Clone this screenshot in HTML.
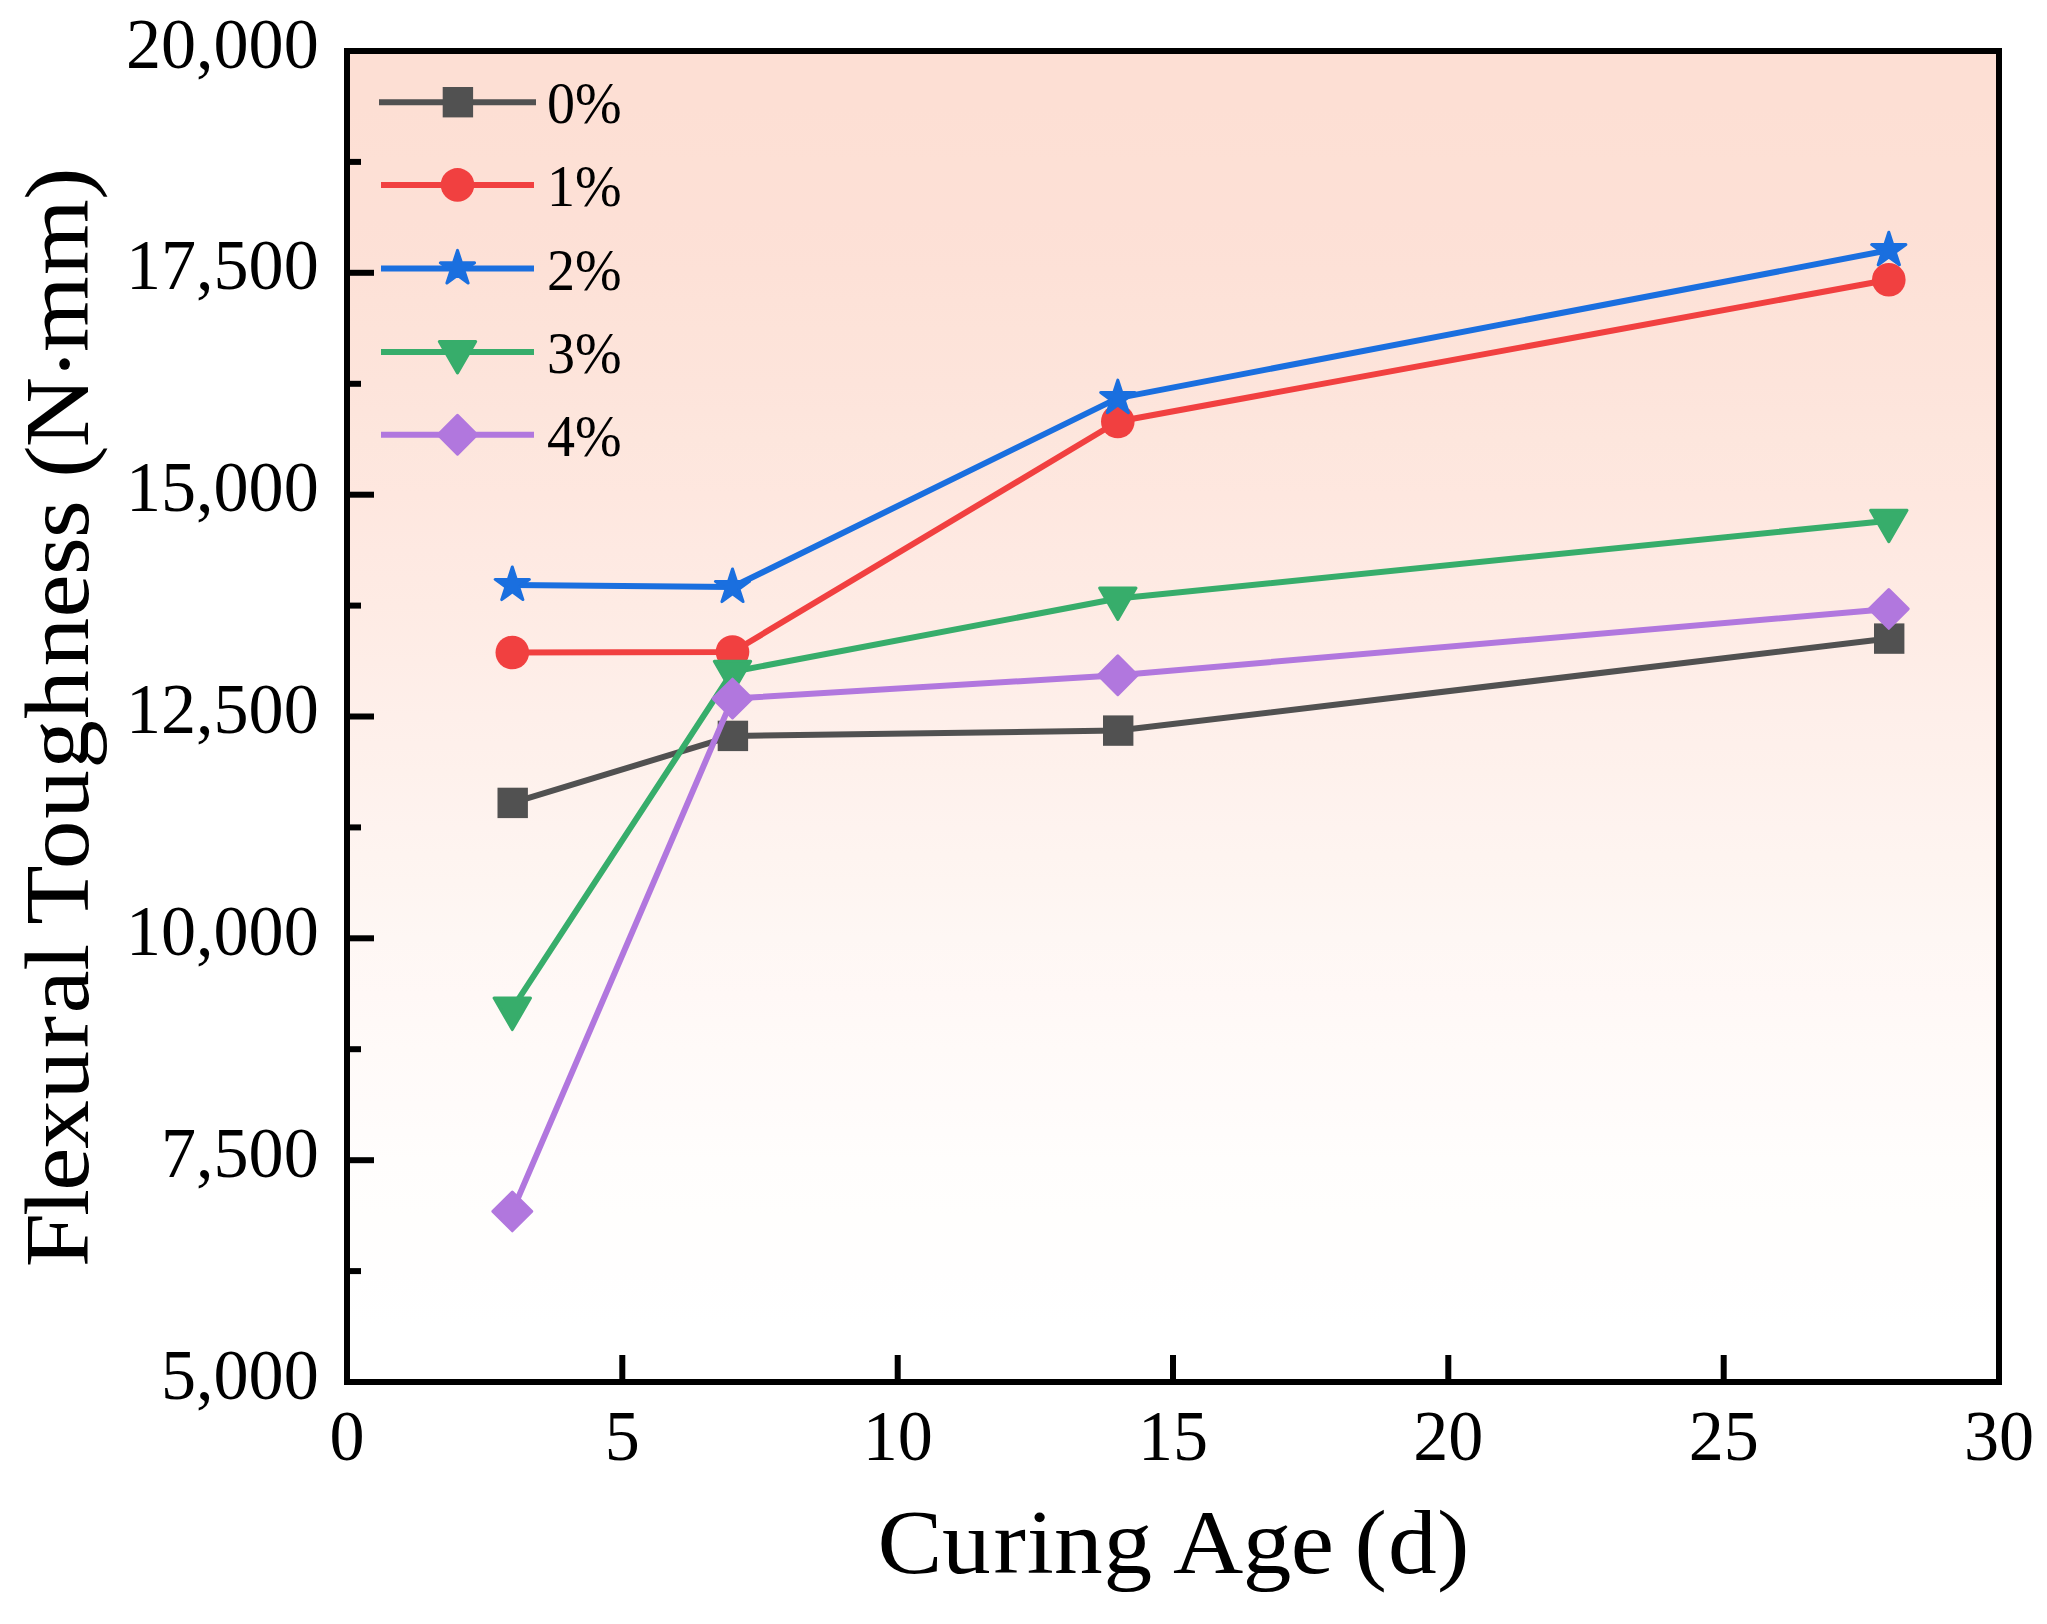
<!DOCTYPE html>
<html lang="en">
<head>
<meta charset="utf-8">
<title>Flexural Toughness vs Curing Age</title>
<style>
html,body{margin:0;padding:0;background:#fff;}
body{width:2047px;height:1624px;overflow:hidden;}
svg{display:block;}
text{font-family:"Liberation Serif", "DejaVu Serif", serif;fill:#000;}
</style>
</head>
<body>
<svg width="2047" height="1624" viewBox="0 0 2047 1624">
<defs><linearGradient id="bg" x1="0" y1="0" x2="0" y2="1"><stop offset="0.0000" stop-color="#fddfd4"/><stop offset="0.0417" stop-color="#fddfd4"/><stop offset="0.0833" stop-color="#fde0d5"/><stop offset="0.1250" stop-color="#fde0d6"/><stop offset="0.1667" stop-color="#fde1d7"/><stop offset="0.2083" stop-color="#fde3d9"/><stop offset="0.2500" stop-color="#fde4db"/><stop offset="0.2917" stop-color="#fde6dd"/><stop offset="0.3333" stop-color="#fee7df"/><stop offset="0.3750" stop-color="#fee9e2"/><stop offset="0.4167" stop-color="#feebe4"/><stop offset="0.4583" stop-color="#feede7"/><stop offset="0.5000" stop-color="#feefea"/><stop offset="0.5417" stop-color="#fef1ec"/><stop offset="0.5833" stop-color="#fef3ef"/><stop offset="0.6250" stop-color="#fef5f1"/><stop offset="0.6667" stop-color="#fef7f4"/><stop offset="0.7083" stop-color="#fff8f6"/><stop offset="0.7500" stop-color="#fffaf8"/><stop offset="0.7917" stop-color="#fffbfa"/><stop offset="0.8333" stop-color="#fffdfc"/><stop offset="0.8750" stop-color="#fffefd"/><stop offset="0.9167" stop-color="#fffefe"/><stop offset="0.9583" stop-color="#ffffff"/><stop offset="1.0000" stop-color="#ffffff"/></linearGradient></defs>
<rect x="0" y="0" width="2047" height="1624" fill="#ffffff"/>
<rect x="347" y="51" width="1652" height="1331" fill="url(#bg)"/>
<g>
<polyline fill="none" stroke="#515151" stroke-width="6" stroke-linejoin="round" points="512.3,802.9 732.5,735.9 1117.8,730.6 1888.8,638.6"/>
<rect x="497.5" y="787.7" width="30.4" height="30.4" fill="#515151"/>
<rect x="717.7" y="720.7" width="30.4" height="30.4" fill="#515151"/>
<rect x="1103.0" y="715.4" width="30.4" height="30.4" fill="#515151"/>
<rect x="1874.0" y="623.4" width="30.4" height="30.4" fill="#515151"/>
</g>
<g>
<polyline fill="none" stroke="#f14040" stroke-width="6" stroke-linejoin="round" points="512.3,652.5 732.5,652.0 1117.8,421.5 1888.8,279.8"/>
<circle cx="512.3" cy="652.5" r="16.8" fill="#f14040"/>
<circle cx="732.5" cy="652.0" r="16.8" fill="#f14040"/>
<circle cx="1117.8" cy="421.5" r="16.8" fill="#f14040"/>
<circle cx="1888.8" cy="279.8" r="16.8" fill="#f14040"/>
</g>
<g>
<polyline fill="none" stroke="#1a6fdf" stroke-width="6" stroke-linejoin="round" points="512.3,585.0 732.5,587.0 1117.8,398.1 1888.8,250.2"/>
<polygon points="512.3,567.0 516.3,579.4 529.4,579.4 518.8,587.1 522.9,599.6 512.3,591.9 501.7,599.6 505.8,587.1 495.2,579.4 508.3,579.4" fill="#1a6fdf" stroke="#1a6fdf" stroke-width="3" stroke-linejoin="round"/>
<polygon points="732.5,569.0 736.5,581.4 749.6,581.4 739.0,589.1 743.1,601.6 732.5,593.9 721.9,601.6 726.0,589.1 715.4,581.4 728.5,581.4" fill="#1a6fdf" stroke="#1a6fdf" stroke-width="3" stroke-linejoin="round"/>
<polygon points="1117.8,380.1 1121.8,392.5 1134.9,392.5 1124.3,400.2 1128.4,412.7 1117.8,405.0 1107.2,412.7 1111.3,400.2 1100.7,392.5 1113.8,392.5" fill="#1a6fdf" stroke="#1a6fdf" stroke-width="3" stroke-linejoin="round"/>
<polygon points="1888.8,232.2 1892.8,244.6 1905.9,244.6 1895.3,252.3 1899.4,264.8 1888.8,257.1 1878.2,264.8 1882.3,252.3 1871.7,244.6 1884.8,244.6" fill="#1a6fdf" stroke="#1a6fdf" stroke-width="3" stroke-linejoin="round"/>
</g>
<g>
<polyline fill="none" stroke="#37ad6b" stroke-width="6" stroke-linejoin="round" points="512.3,1008.6 732.5,671.7 1117.8,598.5 1888.8,520.7"/>
<polygon points="494.1,998.1 530.5,998.1 512.3,1029.6" fill="#37ad6b" stroke="#37ad6b" stroke-width="3" stroke-linejoin="round"/>
<polygon points="714.3,661.2 750.7,661.2 732.5,692.7" fill="#37ad6b" stroke="#37ad6b" stroke-width="3" stroke-linejoin="round"/>
<polygon points="1099.6,588.0 1136.0,588.0 1117.8,619.5" fill="#37ad6b" stroke="#37ad6b" stroke-width="3" stroke-linejoin="round"/>
<polygon points="1870.6,510.2 1907.0,510.2 1888.8,541.7" fill="#37ad6b" stroke="#37ad6b" stroke-width="3" stroke-linejoin="round"/>
</g>
<g>
<polyline fill="none" stroke="#b177de" stroke-width="6" stroke-linejoin="round" points="512.3,1211.4 732.5,698.6 1117.8,675.2 1888.8,608.9"/>
<polygon points="512.3,1192.0 531.7,1211.4 512.3,1230.8 492.9,1211.4" fill="#b177de" stroke="#b177de" stroke-width="3" stroke-linejoin="round"/>
<polygon points="732.5,679.2 751.9,698.6 732.5,718.0 713.1,698.6" fill="#b177de" stroke="#b177de" stroke-width="3" stroke-linejoin="round"/>
<polygon points="1117.8,655.8 1137.2,675.2 1117.8,694.6 1098.4,675.2" fill="#b177de" stroke="#b177de" stroke-width="3" stroke-linejoin="round"/>
<polygon points="1888.8,589.5 1908.2,608.9 1888.8,628.3 1869.4,608.9" fill="#b177de" stroke="#b177de" stroke-width="3" stroke-linejoin="round"/>
</g>
<g stroke="#000" stroke-width="6" fill="none">
<rect x="347" y="51" width="1652" height="1331"/>
<line x1="347" y1="1160.2" x2="374" y2="1160.2"/>
<line x1="347" y1="938.3" x2="374" y2="938.3"/>
<line x1="347" y1="716.5" x2="374" y2="716.5"/>
<line x1="347" y1="494.7" x2="374" y2="494.7"/>
<line x1="347" y1="272.8" x2="374" y2="272.8"/>
<line x1="347" y1="1271.1" x2="361" y2="1271.1"/>
<line x1="347" y1="1049.2" x2="361" y2="1049.2"/>
<line x1="347" y1="827.4" x2="361" y2="827.4"/>
<line x1="347" y1="605.6" x2="361" y2="605.6"/>
<line x1="347" y1="383.8" x2="361" y2="383.8"/>
<line x1="347" y1="161.9" x2="361" y2="161.9"/>
<line x1="622.3" y1="1382" x2="622.3" y2="1355"/>
<line x1="897.7" y1="1382" x2="897.7" y2="1355"/>
<line x1="1173.0" y1="1382" x2="1173.0" y2="1355"/>
<line x1="1448.3" y1="1382" x2="1448.3" y2="1355"/>
<line x1="1723.7" y1="1382" x2="1723.7" y2="1355"/>
</g>
<line x1="379" y1="102.2" x2="536" y2="102.2" stroke="#515151" stroke-width="6"/>
<rect x="442.7" y="87.0" width="30.4" height="30.4" fill="#515151"/>
<line x1="381" y1="184.9" x2="534" y2="184.9" stroke="#f14040" stroke-width="6"/>
<circle cx="457.5" cy="184.9" r="16.8" fill="#f14040"/>
<line x1="381" y1="268.4" x2="534" y2="268.4" stroke="#1a6fdf" stroke-width="6"/>
<polygon points="457.5,250.4 461.5,262.8 474.6,262.8 464.0,270.5 468.1,283.0 457.5,275.3 446.9,283.0 451.0,270.5 440.4,262.8 453.5,262.8" fill="#1a6fdf" stroke="#1a6fdf" stroke-width="3" stroke-linejoin="round"/>
<line x1="381" y1="352.0" x2="534" y2="352.0" stroke="#37ad6b" stroke-width="6"/>
<polygon points="439.3,341.5 475.7,341.5 457.5,373.0" fill="#37ad6b" stroke="#37ad6b" stroke-width="3" stroke-linejoin="round"/>
<line x1="381" y1="434.8" x2="534" y2="434.8" stroke="#b177de" stroke-width="6"/>
<polygon points="457.5,415.4 476.9,434.8 457.5,454.2 438.1,434.8" fill="#b177de" stroke="#b177de" stroke-width="3" stroke-linejoin="round"/>
<text transform="translate(318.7,1398.5) scale(0.9670,1.0000)" font-size="72.5" text-anchor="end">5,000</text>
<text transform="translate(318.7,1176.7) scale(0.9670,1.0000)" font-size="72.5" text-anchor="end">7,500</text>
<text transform="translate(318.7,954.8) scale(0.9670,1.0000)" font-size="72.5" text-anchor="end">10,000</text>
<text transform="translate(318.7,733.0) scale(0.9670,1.0000)" font-size="72.5" text-anchor="end">12,500</text>
<text transform="translate(318.7,511.2) scale(0.9670,1.0000)" font-size="72.5" text-anchor="end">15,000</text>
<text transform="translate(318.7,289.3) scale(0.9670,1.0000)" font-size="72.5" text-anchor="end">17,500</text>
<text transform="translate(318.7,67.5) scale(0.9670,1.0000)" font-size="72.5" text-anchor="end">20,000</text>
<text transform="translate(347.0,1459.7) scale(0.9670,1.0000)" font-size="72.5" text-anchor="middle">0</text>
<text transform="translate(622.3,1459.7) scale(0.9670,1.0000)" font-size="72.5" text-anchor="middle">5</text>
<text transform="translate(897.7,1459.7) scale(0.9670,1.0000)" font-size="72.5" text-anchor="middle">10</text>
<text transform="translate(1173.0,1459.7) scale(0.9670,1.0000)" font-size="72.5" text-anchor="middle">15</text>
<text transform="translate(1448.3,1459.7) scale(0.9670,1.0000)" font-size="72.5" text-anchor="middle">20</text>
<text transform="translate(1723.7,1459.7) scale(0.9670,1.0000)" font-size="72.5" text-anchor="middle">25</text>
<text transform="translate(1999.0,1459.7) scale(0.9670,1.0000)" font-size="72.5" text-anchor="middle">30</text>
<text transform="translate(547.0,123.4) scale(0.9500,1.0000)" font-size="59" text-anchor="start">0%</text>
<text transform="translate(547.0,206.1) scale(0.9500,1.0000)" font-size="59" text-anchor="start">1%</text>
<text transform="translate(547.0,289.6) scale(0.9500,1.0000)" font-size="59" text-anchor="start">2%</text>
<text transform="translate(547.0,373.2) scale(0.9500,1.0000)" font-size="59" text-anchor="start">3%</text>
<text transform="translate(547.0,456.0) scale(0.9500,1.0000)" font-size="59" text-anchor="start">4%</text>
<text transform="translate(0,1572.5) scale(1.0700,1.0000)" font-size="91" x="820.1 880.3 928.5 959.6 985.1 1031.4 1063.8 1096.3 1161.5 1206.2 1236.1 1266.0 1297.3 1343.1" y="0">Curing Age (d)</text>
<text transform="translate(87.8,0) rotate(-90) scale(1.0700,1.0000)" font-size="91" x="-1184.3 -1136.5 -1112.8 -1073.5 -1027.6 -979.6 -947.3 -907.3 -885.7 -864.2 -812.4 -765.1 -718.5 -671.9 -622.8 -577.0 -537.4 -502.8 -474.7 -446.6 -418.0 -355.4 -329.0 -257.1 -186.9" y="0" dy="0 0 0 0 0 0 0 0 0 0 0 0 0 0 0 0 0 0 0 0 0 7 -7 0 0">Flexural Toughness (N·mm)</text>
</svg>
</body>
</html>
